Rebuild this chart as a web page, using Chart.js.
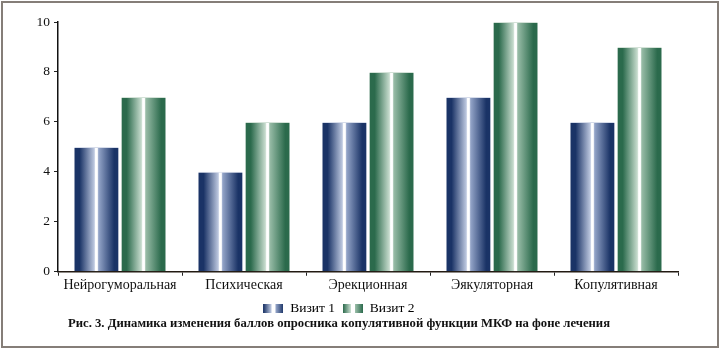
<!DOCTYPE html>
<html>
<head>
<meta charset="utf-8">
<script src="https://cdn.jsdelivr.net/npm/chart.js@4.4.0/dist/chart.umd.min.js"></script>
<style>
  html, body { margin: 0; padding: 0; background: #fff; }
  #wrap { position: relative; width: 720px; height: 350px; }
  canvas { display: block; }
</style>
</head>
<body>
<div id="wrap"><canvas id="c" width="720" height="350"></canvas></div>
<script>
const categories = ['Нейрогуморальная', 'Психическая', 'Эрекционная', 'Эякуляторная', 'Копулятивная'];
const visit1 = [5, 4, 6, 7, 6];
const visit2 = [7, 6, 8, 10, 9];
const seriesNames = ['Визит 1', 'Визит 2'];
const yTicks = [0, 2, 4, 6, 8, 10];
const titleText = 'Рис. 3. Динамика изменения баллов опросника копулятивной функции МКФ на фоне лечения';

const palettes = [
  { dark: '#1a3366', light: '#bcc7df', after: '#93a4c8' },
  { dark: '#2b6a4c', light: '#c6dbcd', after: '#98bca7' }
];
const CAT_PCT = 0.76, BAR_PCT = 0.94;

function addStops(g, p) {
  g.addColorStop(0, p.dark);
  g.addColorStop(0.12, p.dark);
  g.addColorStop(0.45, p.light);
  g.addColorStop(0.48, '#ffffff');
  g.addColorStop(0.52, '#ffffff');
  g.addColorStop(0.55, p.after);
  g.addColorStop(0.9, p.dark);
  g.addColorStop(1, p.dark);
}

function barFill(ctx) {
  const chart = ctx.chart;
  const xs = chart.scales && chart.scales.x;
  if (!xs || ctx.dataIndex === undefined || !chart.chartArea) return palettes[ctx.datasetIndex].dark;
  const catW = xs.width / categories.length;
  const full = catW * CAT_PCT;
  const center = xs.getPixelForValue(ctx.dataIndex) + (ctx.datasetIndex - 0.5) * full / 2;
  const w = full / 2 * BAR_PCT;
  const g = chart.ctx.createLinearGradient(center - w / 2, 0, center + w / 2, 0);
  addStops(g, palettes[ctx.datasetIndex]);
  return g;
}

function legendIcon(p) {
  const cv = document.createElement('canvas');
  cv.width = 20; cv.height = 9;
  const c = cv.getContext('2d');
  const g = c.createLinearGradient(0, 0, 20, 0);
  g.addColorStop(0, p.dark);
  g.addColorStop(0.38, p.light);
  g.addColorStop(0.42, '#ffffff');
  g.addColorStop(0.58, '#ffffff');
  g.addColorStop(0.62, p.after);
  g.addColorStop(1, p.dark);
  c.fillStyle = g;
  c.fillRect(0, 0, 20, 9);
  return cv;
}
const icons = palettes.map(legendIcon);

const framePlugin = {
  id: 'frame',
  afterDraw(chart) {
    const c = chart.ctx;
    c.save();
    c.strokeStyle = '#857e78';
    c.lineWidth = 2;
    c.strokeRect(2, 2, 716, 345);
    c.restore();
  }
};

Chart.defaults.font.family = '"Liberation Serif", "Times New Roman", serif';
Chart.defaults.color = '#111';

new Chart(document.getElementById('c'), {
  type: 'bar',
  data: {
    labels: categories,
    datasets: [
      { label: seriesNames[0], data: visit1, backgroundColor: barFill,
        borderWidth: { top: 1, left: 0, right: 0, bottom: 0 }, borderColor: '#d6dcea',
        categoryPercentage: CAT_PCT, barPercentage: BAR_PCT },
      { label: seriesNames[1], data: visit2, backgroundColor: barFill,
        borderWidth: { top: 1, left: 0, right: 0, bottom: 0 }, borderColor: '#d4e2d8',
        categoryPercentage: CAT_PCT, barPercentage: BAR_PCT }
    ]
  },
  options: {
    responsive: false,
    animation: false,
    events: [],
    layout: { padding: { left: 0, right: 42, top: 22, bottom: 6 } },
    scales: {
      x: {
        grid: { display: true, drawOnChartArea: false, drawTicks: true, tickLength: 4, color: '#222', offset: true },
        border: { display: true, color: '#221a12', width: 1.5 },
        ticks: { font: { size: 14 }, color: '#111', padding: 1, maxRotation: 0, autoSkip: false },
        afterFit(s) { s.height = 22; }
      },
      y: {
        min: 0, max: 10,
        afterBuildTicks(s) { s.ticks = yTicks.map(v => ({ value: v })); },
        grid: { display: true, drawOnChartArea: false, drawTicks: true, tickLength: 4, color: '#222' },
        border: { display: true, color: '#111', width: 1.5 },
        ticks: { font: { size: 13.5 }, color: '#111', padding: 4 },
        afterFit(s) { s.width = 58; }
      }
    },
    plugins: {
      legend: {
        position: 'bottom',
        maxHeight: 22,
        labels: {
          usePointStyle: true,
          pointStyleWidth: 20,
          boxHeight: 9,
          padding: 8,
          font: { size: 13.5 },
          color: '#111',
          generateLabels(chart) {
            return chart.data.datasets.map((ds, i) => ({
              text: ds.label, pointStyle: icons[i], fillStyle: palettes[i].dark,
              strokeStyle: palettes[i].dark, lineWidth: 0, datasetIndex: i, hidden: false
            }));
          }
        }
      },
      title: {
        display: true,
        position: 'bottom',
        text: titleText,
        font: { size: 12.7, weight: 'bold' },
        color: '#111',
        padding: { top: 0, bottom: 13 }
      },
      tooltip: { enabled: false }
    }
  },
  plugins: [framePlugin]
});
</script>
</body>
</html>
